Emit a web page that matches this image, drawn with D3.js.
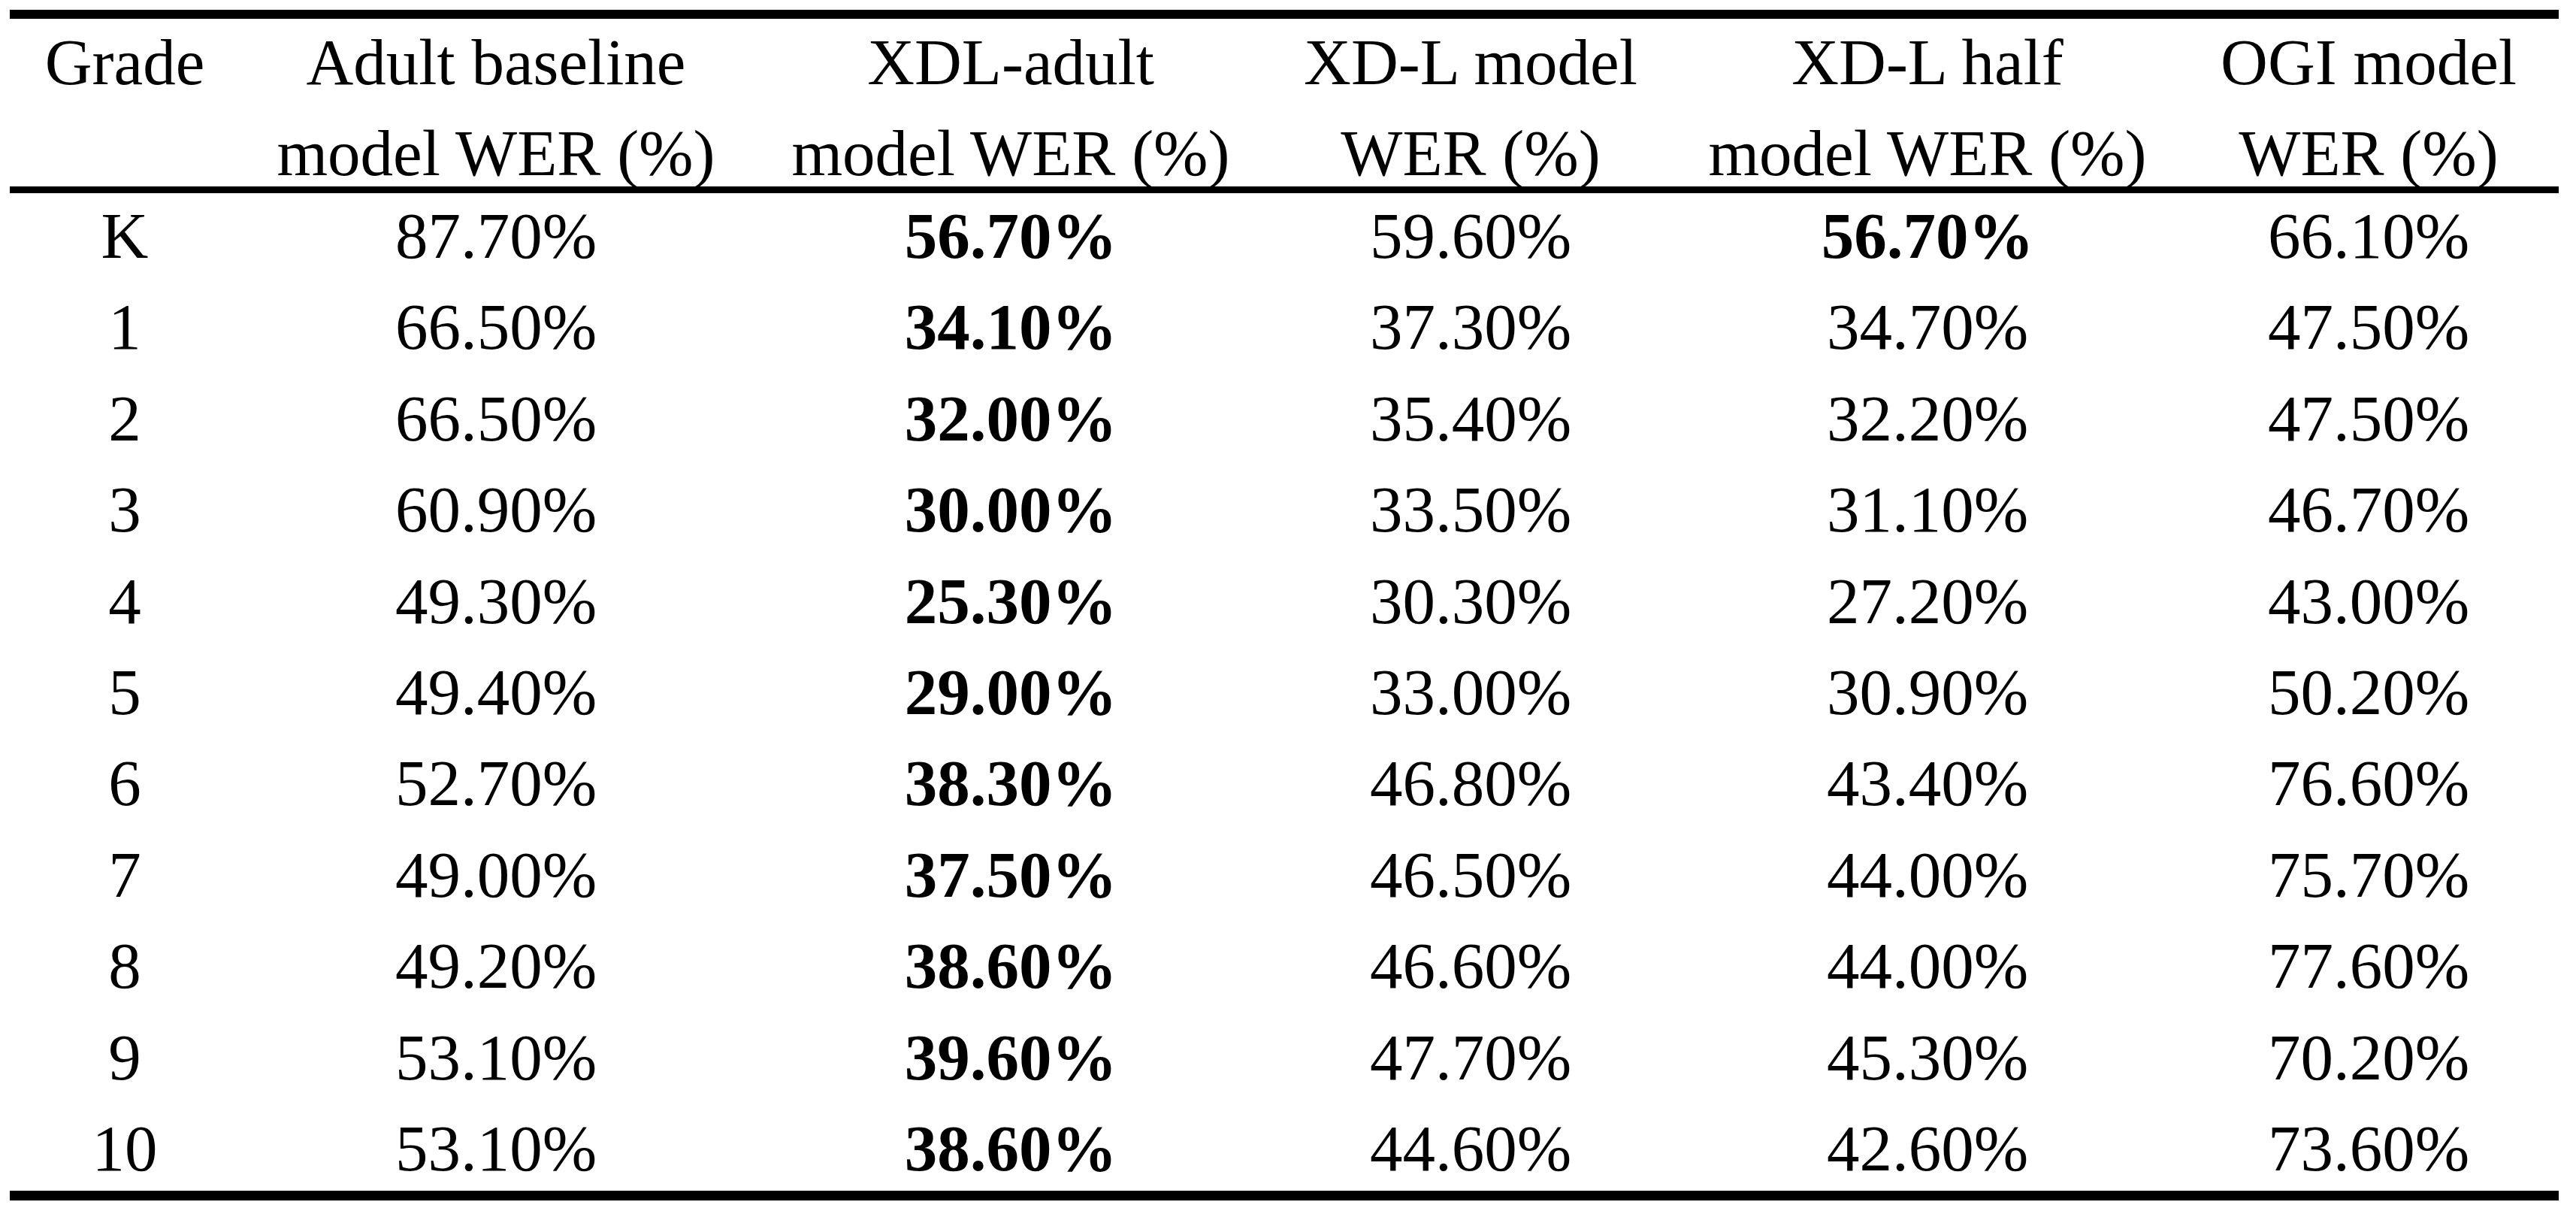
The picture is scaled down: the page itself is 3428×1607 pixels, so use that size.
<!DOCTYPE html>
<html>
<head>
<meta charset="utf-8">
<script src="https://cdn.jsdelivr.net/npm/d3@7"></script>
<style>
  html, body { margin: 0; padding: 0; background: #fff; }
  svg { display: block; }
  text { font-family: "Liberation Serif", "Times New Roman", serif; fill: #000; }
</style>
</head>
<body>
<svg id="chart" width="3428" height="1607"></svg>
<script>
const grades = ["K", "1", "2", "3", "4", "5", "6", "7", "8", "9", "10"];
const headers = [
  ["Grade", ""],
  ["Adult baseline", "model WER (%)"],
  ["XDL-adult", "model WER (%)"],
  ["XD-L model", "WER (%)"],
  ["XD-L half", "model WER (%)"],
  ["OGI model", "WER (%)"]
];
const adultBaseline = [87.7, 66.5, 66.5, 60.9, 49.3, 49.4, 52.7, 49.0, 49.2, 53.1, 53.1];
const xdlAdult      = [56.7, 34.1, 32.0, 30.0, 25.3, 29.0, 38.3, 37.5, 38.6, 39.6, 38.6];
const xdlModel      = [59.6, 37.3, 35.4, 33.5, 30.3, 33.0, 46.8, 46.5, 46.6, 47.7, 44.6];
const xdlHalf       = [56.7, 34.7, 32.2, 31.1, 27.2, 30.9, 43.4, 44.0, 44.0, 45.3, 42.6];
const ogiModel      = [66.1, 47.5, 47.5, 46.7, 43.0, 50.2, 76.6, 75.7, 77.6, 70.2, 73.6];

const series = [adultBaseline, xdlAdult, xdlModel, xdlHalf, ogiModel];

// layout
const fontSize = 87;
const colCenters = [166, 660, 1345, 1957, 2565, 3152];
const x = d3.scaleOrdinal().domain(d3.range(headers.length)).range(colCenters);
const y = d3.scalePoint().domain(grades).range([343, 1557]);
const lineX = [13, 3405];

const svg = d3.select("#chart");

// rules
const rules = [
  { y: 19, w: 12 },
  { y: 252.5, w: 9 },
  { y: 1590.5, w: 13 }
];
svg.selectAll("line.rule").data(rules).enter().append("line")
  .attr("class", "rule")
  .attr("x1", lineX[0]).attr("x2", lineX[1])
  .attr("y1", d => d.y).attr("y2", d => d.y)
  .attr("stroke", "#000")
  .attr("stroke-width", d => d.w);

// header
const head = svg.append("g");
headers.forEach((h, i) => {
  h.forEach((line, j) => {
    if (!line) return;
    head.append("text")
      .attr("x", x(i))
      .attr("y", 112 + j * 121)
      .attr("text-anchor", "middle")
      .style("font-size", fontSize + "px")
      .text(line);
  });
});

// grade column
svg.selectAll("text.grade").data(grades).enter().append("text")
  .attr("class", "grade")
  .attr("x", x(0))
  .attr("y", d => y(d))
  .attr("text-anchor", "middle")
  .style("font-size", fontSize + "px")
  .text(d => d);

// values, best in each row bold
const fmt = d3.format(".2f");
series.forEach((vals, s) => {
  svg.selectAll("text.s" + s).data(vals).enter().append("text")
    .attr("class", "s" + s)
    .attr("x", x(s + 1))
    .attr("y", (d, i) => y(grades[i]))
    .attr("text-anchor", "middle")
    .style("font-size", fontSize + "px")
    .style("font-weight", (d, i) => d === d3.min(series, v => v[i]) ? "bold" : "normal")
    .text(d => fmt(d) + "%");
});
</script>
</body>
</html>
